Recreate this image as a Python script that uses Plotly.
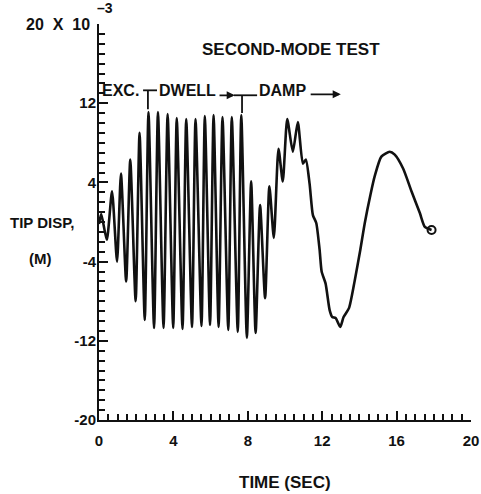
import plotly.graph_objects as go

# ---- data (time in s, tip displacement in 1e-3 m) ----
time_s = [0.0, 0.12, 0.42, 0.70, 0.97, 1.18, 1.46, 1.68, 1.97, 2.18, 2.46, 2.66,
          2.96, 3.17, 3.47, 3.69, 3.99, 4.18, 4.49, 4.69, 5.00, 5.19, 5.51, 5.69,
          5.97, 6.16, 6.43, 6.64, 6.95, 7.14, 7.46, 7.65, 7.95, 8.18, 8.42, 8.66,
          8.93, 9.16, 9.40, 9.65, 9.88, 10.12, 10.42, 10.69, 10.96, 11.12, 11.32,
          11.50, 11.68, 11.86, 11.97, 12.18, 12.40, 12.54, 12.72, 12.97, 13.15,
          13.44, 13.75, 14.05, 14.29, 14.60, 14.82, 15.18, 15.63, 15.90, 16.35,
          16.80, 17.25, 17.52, 17.88]
tip_disp = [-0.2, 0.8, -1.8, 3.1, -4.0, 4.9, -6.0, 6.3, -8.0, 9.0, -9.9, 11.1,
            -10.7, 11.1, -10.7, 10.9, -10.7, 10.5, -10.8, 10.4, -10.6, 10.4, -10.5, 10.7,
            -10.4, 10.8, -10.6, 10.6, -10.9, 10.6, -11.1, 10.8, -11.7, 4.1, -11.2, 1.7,
            -7.7, 3.6, -1.6, 7.4, 4.1, 10.4, 7.1, 10.1, 5.9, 6.3, 3.9,
            0.7, -0.1, -2.8, -5.0, -6.2, -8.9, -9.6, -9.7, -10.6, -9.6,
            -8.7, -5.9, -2.8, -0.1, 2.8, 4.6, 6.6, 7.1, 6.8, 5.4,
            3.1, 0.9, -0.5, -0.8]

phase_bounds = [2.63, 7.69]          # end of excitation, end of dwell
phase_labels = ["EXC.", "DWELL", "DAMP"]
phase_label_x = [1.18, 4.76, 9.87]

y_ticks = [-20, -12, -4, 4, 12]
y_tick_text = ["-20", "-12", "-4", "4", "12"]

title_text = "SECOND-MODE TEST"
x_title = "TIME (SEC)"
y_title_1 = "TIP DISP,"
y_title_2 = "(M)"
scale_text = "20\u00a0\u00a0X\u00a0\u00a010"
scale_exp = "\u20133"

FONT = "Liberation Sans"
INK = "#111111"

fig = go.Figure()
fig.add_trace(go.Scatter(
    x=time_s, y=tip_disp, mode="lines",
    line=dict(color=INK, width=2.6, shape="spline", smoothing=0.6),
    showlegend=False, hoverinfo="skip"))
fig.add_trace(go.Scatter(
    x=[time_s[-1]], y=[tip_disp[-1]], mode="markers",
    marker=dict(symbol="circle-open", size=8, color=INK, line=dict(width=2)),
    showlegend=False, hoverinfo="skip"))

axis_common = dict(showgrid=False, zeroline=False, showline=True, linecolor=INK,
                   linewidth=2, ticks="inside", tickcolor=INK, tickwidth=1.6,
                   ticklen=9, automargin=False,
                   tickfont=dict(family=FONT, size=15, color=INK, weight="bold"))

fig.update_xaxes(range=[0, 20], tickmode="linear", tick0=0, dtick=4,
                 ticklabelstandoff=6, ticklabeloverflow="allow",
                 minor=dict(tickmode="linear", dtick=0.5, tick0=0, ticks="inside",
                            ticklen=6, tickwidth=1.5, tickcolor=INK),
                 **axis_common)
fig.update_yaxes(range=[-20, 20], tickvals=y_ticks, ticktext=y_tick_text,
                 ticklabelstandoff=-2,
                 minor=dict(tickmode="linear", dtick=1, tick0=-20, ticks="inside",
                            ticklen=6, tickwidth=1.5, tickcolor=INK),
                 **axis_common)

fnt = dict(family=FONT, size=16, color=INK, weight="bold")
ann = []
ann.append(dict(text=title_text, x=10.32, y=17.4, xref="x", yref="y",
                showarrow=False, font=dict(family=FONT, size=17, color=INK,
                                           weight="bold")))
for lab, lx in zip(phase_labels, phase_label_x):
    ann.append(dict(text=lab, x=lx, y=13.3, xref="x", yref="y", showarrow=False,
                    font=fnt))
# arrow heads after DWELL and DAMP
ann.append(dict(x=7.3, y=12.8, ax=6.4, ay=12.8, xref="x", yref="y",
                axref="x", ayref="y", showarrow=True, arrowhead=2,
                arrowsize=0.9, arrowwidth=1.8, arrowcolor=INK, text=""))
ann.append(dict(x=13.0, y=12.9, ax=11.3, ay=12.9, xref="x", yref="y",
                axref="x", ayref="y", showarrow=True, arrowhead=2,
                arrowsize=0.9, arrowwidth=1.8, arrowcolor=INK, text=""))
ann.append(dict(text=scale_text, x=-0.018, y=0.998, xref="paper", yref="paper",
                xanchor="right", yanchor="middle", showarrow=False,
                font=dict(family=FONT, size=16, color=INK, weight="bold")))
ann.append(dict(text=scale_exp, x=-0.012, y=1.04, xref="paper", yref="paper",
                xanchor="left", yanchor="middle", showarrow=False,
                font=dict(family=FONT, size=14, color=INK, weight="bold")))
ann.append(dict(text=x_title, x=0.5, y=-0.159, xref="paper", yref="paper",
                yanchor="middle", showarrow=False,
                font=dict(family=FONT, size=17, color=INK, weight="bold")))
ann.append(dict(text=y_title_1, x=-0.153, y=0.0, xref="paper", yref="y",
                xanchor="center", yanchor="middle", showarrow=False,
                font=dict(family=FONT, size=15, color=INK, weight="bold")))
ann.append(dict(text=y_title_2, x=-0.156, y=-3.7, xref="paper", yref="y",
                xanchor="center", yanchor="middle", showarrow=False,
                font=dict(family=FONT, size=15, color=INK, weight="bold")))

shapes = []
line_style = dict(color=INK, width=1.8)
# T marker at end of excitation
shapes.append(dict(type="line", x0=2.37, x1=3.12, y0=13.3, y1=13.3,
                   xref="x", yref="y", line=line_style))
shapes.append(dict(type="line", x0=phase_bounds[0], x1=phase_bounds[0],
                   y0=13.3, y1=11.4, xref="x", yref="y", line=line_style))
# T marker at end of dwell
shapes.append(dict(type="line", x0=7.25, x1=8.5, y0=12.8, y1=12.8,
                   xref="x", yref="y", line=line_style))
shapes.append(dict(type="line", x0=phase_bounds[1], x1=phase_bounds[1],
                   y0=12.8, y1=11.0, xref="x", yref="y", line=line_style))

fig.update_layout(width=481, height=494,
                  margin=dict(l=99, r=10, t=24, b=74),
                  plot_bgcolor="white", paper_bgcolor="white",
                  annotations=ann, shapes=shapes)

# remove the default page margin / scrollbars so the figure fills the window
fig.write_html("out.html", config={"displayModeBar": False},
               post_script="document.body.style.margin='0';"
                           "document.body.style.overflow='hidden';"
                           "document.documentElement.style.overflow='hidden';")
